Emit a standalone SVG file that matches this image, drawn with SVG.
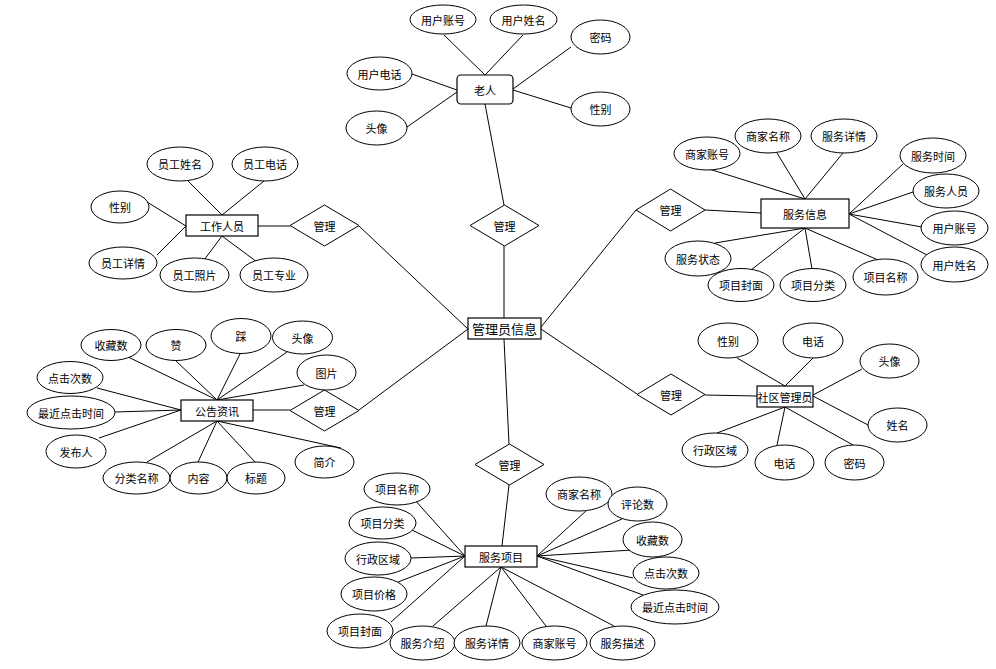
<svg xmlns="http://www.w3.org/2000/svg" width="996" height="669" viewBox="0 0 996 669">
<style>
.c line{stroke:#000;stroke-width:1}
ellipse{fill:#fff;stroke:#000;stroke-width:1}
rect{fill:#fff;stroke:#000;stroke-width:1.2}
polygon{fill:#fff;stroke:#000;stroke-width:1}
text{font-family:"Noto Sans CJK SC","Noto Sans",sans-serif;font-size:11px;fill:#000;text-anchor:middle;dominant-baseline:central}
.big{font-size:13px}
</style>
<rect x="0" y="0" width="996" height="669" style="fill:#fff;stroke:none"/>
<g id="connectors" class="c">
<line x1="504" y1="246" x2="504" y2="318"/>
<line x1="485" y1="104" x2="504" y2="205"/>
<line x1="444" y1="35" x2="485" y2="75"/>
<line x1="523" y1="35" x2="485" y2="75"/>
<line x1="571" y1="47" x2="513" y2="89"/>
<line x1="571" y1="108" x2="513" y2="90"/>
<line x1="412" y1="74" x2="457" y2="90"/>
<line x1="407" y1="127" x2="457" y2="92"/>
<line x1="359" y1="226" x2="468" y2="329"/>
<line x1="258" y1="226" x2="290" y2="226"/>
<line x1="188" y1="181" x2="222" y2="215"/>
<line x1="264" y1="181" x2="222" y2="215"/>
<line x1="147" y1="202" x2="186" y2="226"/>
<line x1="157" y1="255" x2="186" y2="226"/>
<line x1="204" y1="260" x2="222" y2="236"/>
<line x1="257" y1="262" x2="222" y2="236"/>
<line x1="359" y1="410" x2="468" y2="329"/>
<line x1="253" y1="410" x2="290" y2="410"/>
<line x1="126" y1="356" x2="217" y2="400"/>
<line x1="175" y1="360" x2="217" y2="400"/>
<line x1="240" y1="354" x2="217" y2="400"/>
<line x1="287" y1="352" x2="217" y2="400"/>
<line x1="304" y1="385" x2="217" y2="400"/>
<line x1="97" y1="388" x2="181" y2="410"/>
<line x1="115" y1="412" x2="181" y2="410"/>
<line x1="99" y1="438" x2="181" y2="410"/>
<line x1="147" y1="462" x2="217" y2="421"/>
<line x1="198" y1="462" x2="217" y2="421"/>
<line x1="255" y1="462" x2="217" y2="421"/>
<line x1="217" y1="421" x2="341" y2="448"/>
<line x1="636" y1="210" x2="541" y2="327"/>
<line x1="705" y1="210" x2="761" y2="213"/>
<line x1="709" y1="169" x2="805" y2="199"/>
<line x1="777" y1="153" x2="805" y2="199"/>
<line x1="843" y1="153" x2="805" y2="199"/>
<line x1="903" y1="164" x2="849" y2="214"/>
<line x1="913" y1="192" x2="849" y2="214"/>
<line x1="922" y1="227" x2="849" y2="214"/>
<line x1="927" y1="255" x2="849" y2="214"/>
<line x1="715" y1="243" x2="805" y2="228"/>
<line x1="751" y1="270" x2="805" y2="228"/>
<line x1="812" y1="269" x2="805" y2="228"/>
<line x1="878" y1="260" x2="805" y2="228"/>
<line x1="637" y1="394" x2="541" y2="329"/>
<line x1="705" y1="395" x2="757" y2="396"/>
<line x1="737" y1="358" x2="785" y2="386"/>
<line x1="813" y1="358" x2="785" y2="386"/>
<line x1="862" y1="369" x2="813" y2="395"/>
<line x1="868" y1="425" x2="813" y2="396"/>
<line x1="717" y1="433" x2="785" y2="407"/>
<line x1="777" y1="445" x2="785" y2="407"/>
<line x1="853" y1="445" x2="785" y2="407"/>
<line x1="509" y1="444" x2="504" y2="339"/>
<line x1="509" y1="485" x2="502" y2="546"/>
<line x1="414" y1="499" x2="465" y2="556"/>
<line x1="412" y1="530" x2="465" y2="556"/>
<line x1="411" y1="558" x2="465" y2="556"/>
<line x1="398" y1="582" x2="465" y2="556"/>
<line x1="391" y1="622" x2="465" y2="556"/>
<line x1="433" y1="626" x2="501" y2="567"/>
<line x1="486" y1="626" x2="501" y2="567"/>
<line x1="546" y1="626" x2="501" y2="567"/>
<line x1="614" y1="626" x2="501" y2="567"/>
<line x1="587" y1="510" x2="537" y2="556"/>
<line x1="622" y1="519" x2="537" y2="556"/>
<line x1="632" y1="550" x2="537" y2="556"/>
<line x1="633" y1="578" x2="537" y2="556"/>
<line x1="643" y1="595" x2="537" y2="556"/>
</g>
<g id="admin"><rect x="468" y="318" width="73" height="21"/><text class="big" x="504.5" y="328.5">管理员信息</text></g>
<g id="rel-elder"><polygon points="470,225.5 504.5,205 539,225.5 504.5,246"/><text x="504.5" y="225.5">管理</text></g>
<g id="rel-staff"><polygon points="290,225.5 324.5,205 359,225.5 324.5,246"/><text x="324.5" y="225.5">管理</text></g>
<g id="rel-service-info"><polygon points="636,210 670.5,189 705,210 670.5,231"/><text x="670.5" y="210">管理</text></g>
<g id="rel-notice"><polygon points="290,410.5 324.5,390 359,410.5 324.5,431"/><text x="324.5" y="410.5">管理</text></g>
<g id="rel-community"><polygon points="637,394.5 671,374 705,394.5 671,415"/><text x="671" y="394.5">管理</text></g>
<g id="rel-service-item"><polygon points="475,464.5 509.5,444 544,464.5 509.5,485"/><text x="509.5" y="464.5">管理</text></g>

<g id="elder"><rect x="457" y="75" width="56" height="29" rx="4"/><text x="485" y="89.5">老人</text></g>
<g id="elder-account"><ellipse cx="443" cy="19.5" rx="33" ry="14.5"/><text x="443" y="19.5">用户账号</text></g>
<g id="elder-name"><ellipse cx="523.5" cy="19.5" rx="33.5" ry="14.5"/><text x="523.5" y="19.5">用户姓名</text></g>
<g id="elder-pwd"><ellipse cx="600.5" cy="37" rx="29.5" ry="17"/><text x="600.5" y="37">密码</text></g>
<g id="elder-phone"><ellipse cx="379.5" cy="73.5" rx="32.5" ry="16.5"/><text x="379.5" y="73.5">用户电话</text></g>
<g id="elder-avatar"><ellipse cx="376.5" cy="128" rx="30.5" ry="17"/><text x="376.5" y="128">头像</text></g>
<g id="elder-gender"><ellipse cx="600.5" cy="109" rx="29.5" ry="17"/><text x="600.5" y="109">性别</text></g>

<g id="staff"><rect x="186" y="215" width="72" height="21"/><text x="222" y="225.5">工作人员</text></g>
<g id="staff-name"><ellipse cx="180" cy="164" rx="33" ry="17"/><text x="180" y="164">员工姓名</text></g>
<g id="staff-phone"><ellipse cx="265" cy="164" rx="33" ry="17"/><text x="265" y="164">员工电话</text></g>
<g id="staff-gender"><ellipse cx="120" cy="207" rx="29" ry="16"/><text x="120" y="207">性别</text></g>
<g id="staff-detail"><ellipse cx="123" cy="263" rx="34" ry="16"/><text x="123" y="263">员工详情</text></g>
<g id="staff-photo"><ellipse cx="194.5" cy="275" rx="34.5" ry="17"/><text x="194.5" y="275">员工照片</text></g>
<g id="staff-major"><ellipse cx="274" cy="275" rx="34" ry="17"/><text x="274" y="275">员工专业</text></g>

<g id="notice"><rect x="181" y="400" width="72" height="21"/><text x="217" y="410.5">公告资讯</text></g>
<g id="notice-fav"><ellipse cx="111" cy="345" rx="30" ry="15.5"/><text x="111" y="345">收藏数</text></g>
<g id="notice-like"><ellipse cx="176" cy="345" rx="30" ry="15.5"/><text x="176" y="345">赞</text></g>
<g id="notice-dislike"><ellipse cx="241" cy="336" rx="30" ry="17.5"/><text x="241" y="336">踩</text></g>
<g id="notice-avatar"><ellipse cx="302.5" cy="337.5" rx="30" ry="16.5"/><text x="302.5" y="337.5">头像</text></g>
<g id="notice-image"><ellipse cx="326.5" cy="372.5" rx="29.5" ry="17.5"/><text x="326.5" y="372.5">图片</text></g>
<g id="notice-clicks"><ellipse cx="70" cy="377.5" rx="33" ry="16"/><text x="70" y="377.5">点击次数</text></g>
<g id="notice-lastclick"><ellipse cx="71" cy="412.5" rx="44" ry="16.5"/><text x="71" y="412.5">最近点击时间</text></g>
<g id="notice-publisher"><ellipse cx="76" cy="451.5" rx="30" ry="16.5"/><text x="76" y="451.5">发布人</text></g>
<g id="notice-category"><ellipse cx="136.5" cy="478" rx="33.5" ry="16"/><text x="136.5" y="478">分类名称</text></g>
<g id="notice-content"><ellipse cx="198.5" cy="478" rx="28.5" ry="16"/><text x="198.5" y="478">内容</text></g>
<g id="notice-title"><ellipse cx="256" cy="478" rx="29" ry="16"/><text x="256" y="478">标题</text></g>
<g id="notice-intro"><ellipse cx="324.5" cy="462" rx="29.5" ry="16"/><text x="324.5" y="462">简介</text></g>

<g id="service-info"><rect x="761" y="199" width="88" height="29"/><text x="805" y="213.5">服务信息</text></g>
<g id="si-merchant-account"><ellipse cx="707" cy="153.5" rx="33" ry="16.5"/><text x="707" y="153.5">商家账号</text></g>
<g id="si-merchant-name"><ellipse cx="768" cy="136" rx="33" ry="17"/><text x="768" y="136">商家名称</text></g>
<g id="si-detail"><ellipse cx="844" cy="136" rx="33" ry="17"/><text x="844" y="136">服务详情</text></g>
<g id="si-time"><ellipse cx="933" cy="155.5" rx="33" ry="17.5"/><text x="933" y="155.5">服务时间</text></g>
<g id="si-staff"><ellipse cx="946" cy="191" rx="33" ry="17"/><text x="946" y="191">服务人员</text></g>
<g id="si-user-account"><ellipse cx="954.5" cy="228" rx="33.5" ry="17"/><text x="954.5" y="228">用户账号</text></g>
<g id="si-user-name"><ellipse cx="954.5" cy="264.5" rx="33.5" ry="17.5"/><text x="954.5" y="264.5">用户姓名</text></g>
<g id="si-status"><ellipse cx="698" cy="258.5" rx="33" ry="17.5"/><text x="698" y="258.5">服务状态</text></g>
<g id="si-cover"><ellipse cx="741" cy="285" rx="33" ry="16.5"/><text x="741" y="285">项目封面</text></g>
<g id="si-category"><ellipse cx="813" cy="285" rx="33" ry="16.5"/><text x="813" y="285">项目分类</text></g>
<g id="si-item-name"><ellipse cx="885.5" cy="277" rx="32.5" ry="18"/><text x="885.5" y="277">项目名称</text></g>

<g id="community-admin"><rect x="757" y="386" width="56" height="21"/><text x="785" y="396.5">社区管理员</text></g>
<g id="ca-gender"><ellipse cx="728" cy="340.5" rx="30" ry="17.5"/><text x="728" y="340.5">性别</text></g>
<g id="ca-phone1"><ellipse cx="813" cy="340.5" rx="30" ry="17.5"/><text x="813" y="340.5">电话</text></g>
<g id="ca-avatar"><ellipse cx="889.5" cy="361" rx="29.5" ry="17"/><text x="889.5" y="361">头像</text></g>
<g id="ca-name"><ellipse cx="897.5" cy="425" rx="29.5" ry="17"/><text x="897.5" y="425">姓名</text></g>
<g id="ca-region"><ellipse cx="715" cy="450" rx="33" ry="17"/><text x="715" y="450">行政区域</text></g>
<g id="ca-phone2"><ellipse cx="784.5" cy="462.5" rx="29.5" ry="17.5"/><text x="784.5" y="462.5">电话</text></g>
<g id="ca-pwd"><ellipse cx="854.5" cy="462.5" rx="29.5" ry="17.5"/><text x="854.5" y="462.5">密码</text></g>

<g id="service-item"><rect x="465" y="546" width="72" height="21"/><text x="501" y="556.5">服务项目</text></g>
<g id="it-name"><ellipse cx="397" cy="489" rx="33" ry="16"/><text x="397" y="489">项目名称</text></g>
<g id="it-category"><ellipse cx="382.5" cy="523" rx="33.5" ry="16"/><text x="382.5" y="523">项目分类</text></g>
<g id="it-region"><ellipse cx="378" cy="558.5" rx="33" ry="16.5"/><text x="378" y="558.5">行政区域</text></g>
<g id="it-price"><ellipse cx="374" cy="594" rx="33" ry="17"/><text x="374" y="594">项目价格</text></g>
<g id="it-cover"><ellipse cx="360" cy="631" rx="33" ry="17"/><text x="360" y="631">项目封面</text></g>
<g id="it-intro"><ellipse cx="422.5" cy="643" rx="32.5" ry="17"/><text x="422.5" y="643">服务介绍</text></g>
<g id="it-detail"><ellipse cx="487" cy="643" rx="33" ry="17"/><text x="487" y="643">服务详情</text></g>
<g id="it-merchant-account"><ellipse cx="554.5" cy="643" rx="32.5" ry="17"/><text x="554.5" y="643">商家账号</text></g>
<g id="it-desc"><ellipse cx="622.5" cy="643" rx="32.5" ry="17"/><text x="622.5" y="643">服务描述</text></g>
<g id="it-merchant-name"><ellipse cx="579" cy="494" rx="33" ry="17"/><text x="579" y="494">商家名称</text></g>
<g id="it-comments"><ellipse cx="637.5" cy="504" rx="29.5" ry="17"/><text x="637.5" y="504">评论数</text></g>
<g id="it-fav"><ellipse cx="652.5" cy="539.5" rx="29.5" ry="17.5"/><text x="652.5" y="539.5">收藏数</text></g>
<g id="it-clicks"><ellipse cx="666" cy="573" rx="33" ry="16"/><text x="666" y="573">点击次数</text></g>
<g id="it-lastclick"><ellipse cx="675" cy="607" rx="44" ry="17"/><text x="675" y="607">最近点击时间</text></g>
</svg>
